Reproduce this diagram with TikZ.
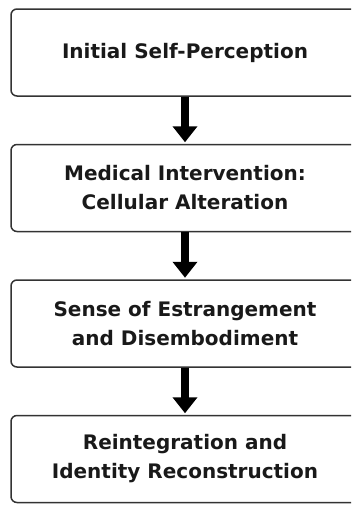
\documentclass[tikz,border=0pt]{standalone}
\usepackage{fontspec}
\setmainfont{DejaVu Sans}
\usetikzlibrary{positioning,arrows.meta}

\begin{document}
\begin{tikzpicture}[x=1pt,y=1pt,
		stage/.style={rectangle,rounded corners=6pt,draw=black!80,line width=1.5pt,minimum width=348pt,minimum height=87pt,align=center,text=black!90,font=\fontsize{20}{29}\selectfont\bfseries},
		flow/.style={line width=8pt,-{Triangle[width=24pt,length=16pt]},shorten >=1.5pt},
		node distance=47pt]
		\useasboundingbox (0,0) rectangle (351,-517);
		\clip (0,0) rectangle (351,-517);
		\node [stage] (0) at (185,-52.5) {Initial Self-Perception};
		\node [stage,below=of 0] (1) {Medical Intervention:\\Cellular Alteration};
		\node [stage,below=of 1] (2) {Sense of Estrangement\\and Disembodiment};
		\node [stage,below=of 2] (3) {Reintegration and\\Identity Reconstruction};
		\draw [flow] (0) -- (1);
		\draw [flow] (1) -- (2);
		\draw [flow] (2) -- (3);
	\end{tikzpicture}
\end{document}
